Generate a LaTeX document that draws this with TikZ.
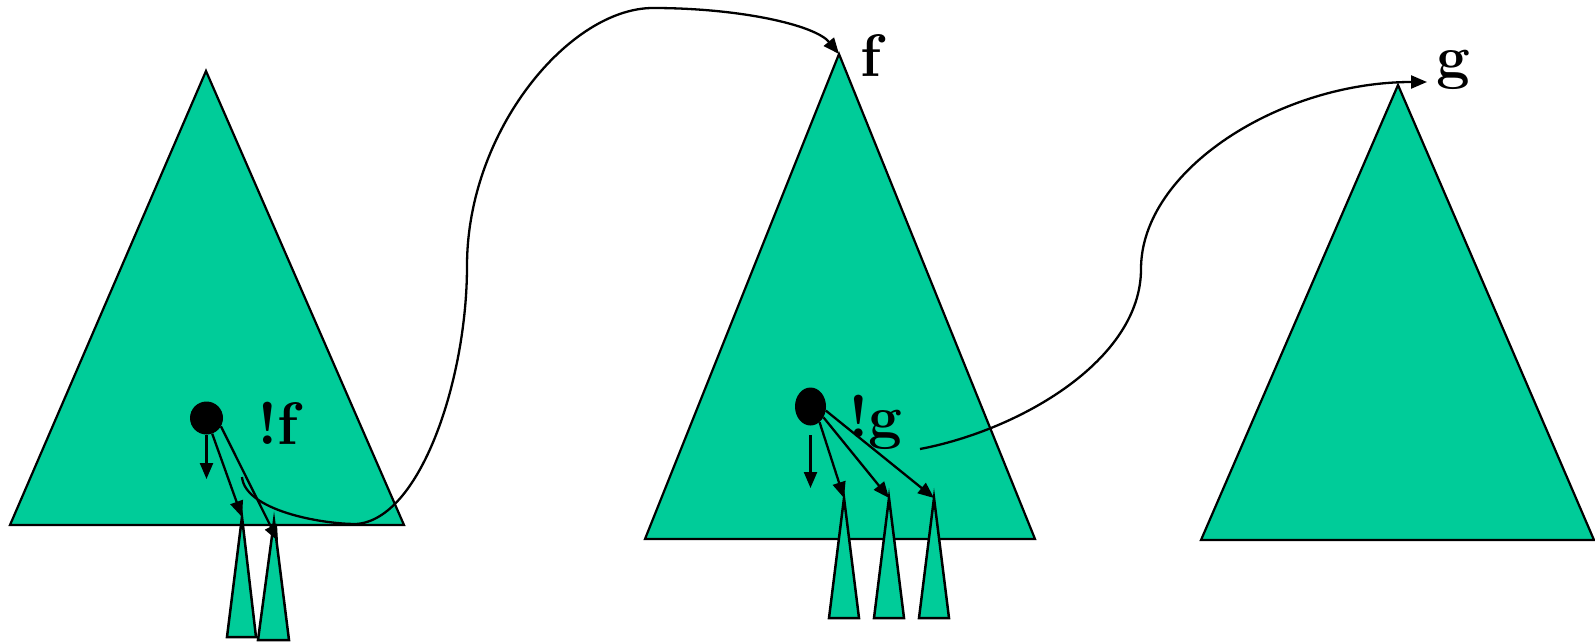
\documentclass[tikz,border=0pt]{standalone}
\usetikzlibrary{arrows.meta,shapes.geometric}
\definecolor{tgreen}{RGB}{0,204,153}
\begin{document}
\begin{tikzpicture}[x=1pt,y=-1pt,
  tri/.style={draw=black,fill=tgreen,line width=2.2pt,line join=miter},
  smalltri/.style={draw=black,fill=tgreen,line width=2.5pt},
  arr/.style={line width=2.3pt,-{Triangle[length=16pt,width=13pt]}},
  curve/.style={line width=2.3pt},
  lbl/.style={font=\fontsize{60}{64}\selectfont\bfseries,inner sep=0pt,anchor=base west}]
\useasboundingbox (0,0) rectangle (1595,643);
% coordinates
\coordinate (LA) at (206,71);
\coordinate (MA) at (839,54);
\coordinate (RA) at (1398,85);
\coordinate (l1) at (242,517);
\coordinate (l2) at (274,521);
\coordinate (m1) at (844,498);
\coordinate (m2) at (889,498);
\coordinate (m3) at (934,498);
% big triangles
\draw[tri] (LA) -- (404,525) -- (10,525) -- cycle;
\draw[tri] (MA) -- (1035,539) -- (645,539) -- cycle;
\draw[tri] (RA) -- (1594,540) -- (1201,540) -- cycle;
% dots
\node[circle,fill=black,minimum size=33pt,inner sep=0pt] (dl) at (206.5,418) {};
\node[ellipse,fill=black,minimum width=31pt,minimum height=38pt,inner sep=0pt] (dm) at (810.5,406.5) {};
% labels
\node[lbl] (nf) at (257,444) {!f};
\node[lbl] (ng) at (848,437) {!g};
\node[lbl] (tf) at (860,76) {f};
\node[lbl] (tg) at (1436,77) {g};
% left curve
\coordinate (cs) at (242,477);
\draw[curve,-{Triangle[length=16pt,width=13pt]}] (cs) .. controls (245,510) and (320,524) .. (356,524)
  .. controls (420,520) and (467,380) .. (467,266)
  .. controls (467,130) and (570,8) .. (653,8)
  .. controls (740,8) and (815,25) .. (MA);
% small triangles left
\draw[smalltri] (l1) -- (256,637) -- (227,637) -- cycle;
\draw[smalltri] (l2) -- (289,640) -- (258,640) -- cycle;
% left arrows
\coordinate (ld) at (206.5,479);
\draw[arr] (206.5,435) -- (ld);
\draw[arr] (dl.-70) -- (l1);
\coordinate (l2e) at (278,541);
\draw[arr] (dl.-30) -- (l2e);
% small triangles middle
\draw[smalltri] (m1) -- (859,618) -- (829,618) -- cycle;
\draw[smalltri] (m2) -- (904,618) -- (874,618) -- cycle;
\draw[smalltri] (m3) -- (949,618) -- (919,618) -- cycle;
% middle arrows
\coordinate (md) at (810.5,488);
\draw[arr] (810.5,435) -- (md);
\draw[arr] (dm.-60) -- (m1);
\draw[arr] (dm.-40) -- (m2);
\draw[arr] (dm.-15) -- (m3);
% right curve
\coordinate (cs2) at (920,449);
\coordinate (ge) at (1427,82);
\draw[curve,-{Triangle[length=16pt,width=13pt]}] (cs2) .. controls (1020,430) and (1141,360) .. (1141,269)
  .. controls (1141,170) and (1280,82) .. (ge);
\end{tikzpicture}
\end{document}
